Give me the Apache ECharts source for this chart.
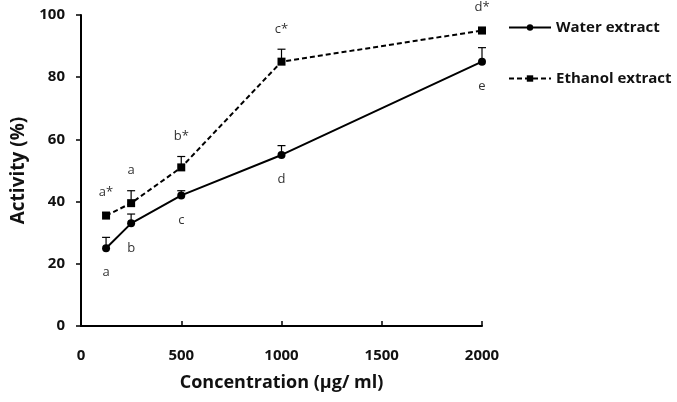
<!DOCTYPE html>
<html>
<head>
<meta charset="utf-8">
<script src="https://cdn.jsdelivr.net/npm/echarts@6/dist/echarts.min.js"></script>
<style>
  html, body { margin: 0; padding: 0; background: #fff; }
  #chart { width: 677px; height: 402px; }
</style>
</head>
<body>
<div id="chart"></div>
<script>
// concentration (ug/ml)
const concentrations = [125, 250, 500, 1000, 2000]
const waterValues = [25, 33, 42, 55, 85]
const waterErrors = [3.5, 3, 1.5, 3, 4.5]
const waterLabels = ['a', 'b', 'c', 'd', 'e']
const ethanolValues = [35.5, 39.5, 51, 85, 95]
const ethanolErrors = [1, 4, 3.5, 4, 1]
const ethanolLabels = ['a*', 'a', 'b*', 'c*', 'd*']
const xTicks = [0, 500, 1000, 1500, 2000]
const yTicks = [0, 20, 40, 60, 80, 100]

const font = '"Open Sans", "Noto Sans", sans-serif'

function pairs(values) {
  return concentrations.map((x, i) => [x, values[i]])
}

function errorData(values, errors) {
  return concentrations.map((x, i) => [x, values[i], values[i] + errors[i]])
}

// upper-only error bar with small cap, optional letter above it
function makeErrorRender(letters) {
  return function (params, api) {
    const p0 = api.coord([api.value(0), api.value(1)])
    const p1 = api.coord([api.value(0), api.value(2)])
    const w = 4
    const children = [
      { type: 'line', shape: { x1: p0[0], y1: p0[1], x2: p1[0], y2: p1[1] }, style: { stroke: '#000', lineWidth: 1.2 } },
      { type: 'line', shape: { x1: p1[0] - w, y1: p1[1], x2: p1[0] + w, y2: p1[1] }, style: { stroke: '#000', lineWidth: 1.2 } }
    ]
    if (letters) {
      children.push({
        type: 'text',
        x: p1[0],
        y: p1[1] - 20,
        style: {
          text: letters[params.dataIndex],
          align: 'center',
          verticalAlign: 'middle',
          fontFamily: font,
          fontSize: 13,
          fill: '#333'
        }
      })
    }
    return { type: 'group', children: children }
  }
}

const chart = echarts.init(document.getElementById('chart'))
chart.setOption({
  animation: false,
  textStyle: { fontFamily: font },
  grid: { left: 81, right: 195, top: 15, bottom: 76 },
  legend: {
    orient: 'vertical',
    left: 503,
    top: 15,
    itemGap: 36,
    itemWidth: 42,
    itemHeight: 8,
    textStyle: { fontFamily: font, fontWeight: 'bold', fontSize: 15, color: '#111' },
    data: ['Water extract', 'Ethanol extract']
  },
  xAxis: {
    type: 'value',
    min: xTicks[0],
    max: xTicks[xTicks.length - 1],
    interval: 500,
    name: 'Concentration (μg/ ml)',
    nameLocation: 'middle',
    nameGap: 48,
    nameTextStyle: { fontFamily: font, fontWeight: 'bold', fontSize: 18, color: '#111' },
    axisLine: { lineStyle: { color: '#000', width: 2 } },
    axisTick: { inside: true, length: 5, lineStyle: { color: '#000', width: 1.5 } },
    axisLabel: { margin: 22, fontWeight: 'bold', fontSize: 15, color: '#111', formatter: (v) => String(v) },
    splitLine: { show: false }
  },
  yAxis: {
    type: 'value',
    min: yTicks[0],
    max: yTicks[yTicks.length - 1],
    interval: 20,
    name: 'Activity (%)',
    nameLocation: 'middle',
    nameGap: 50,
    nameTextStyle: { fontFamily: font, fontWeight: 'bold', fontSize: 19, color: '#111' },
    axisLine: { show: true, lineStyle: { color: '#000', width: 2 } },
    axisTick: { show: true, length: 5, lineStyle: { color: '#000', width: 1.5 } },
    axisLabel: { margin: 16, fontWeight: 'bold', fontSize: 15, color: '#111' },
    splitLine: { show: false }
  },
  series: [
    {
      type: 'custom',
      renderItem: makeErrorRender(null),
      data: errorData(waterValues, waterErrors),
      encode: { x: 0, y: [1, 2] },
      z: 1,
      silent: true
    },
    {
      type: 'custom',
      renderItem: makeErrorRender(ethanolLabels),
      data: errorData(ethanolValues, ethanolErrors),
      encode: { x: 0, y: [1, 2] },
      z: 1,
      silent: true
    },
    {
      name: 'Water extract',
      type: 'line',
      data: pairs(waterValues),
      symbol: 'circle',
      symbolSize: 8,
      itemStyle: { color: '#000' },
      lineStyle: { color: '#000', width: 2 },
      label: {
        show: true,
        position: 'bottom',
        distance: 14,
        fontSize: 13,
        color: '#333',
        formatter: (p) => waterLabels[p.dataIndex]
      },
      z: 3
    },
    {
      name: 'Ethanol extract',
      type: 'line',
      data: pairs(ethanolValues),
      symbol: 'rect',
      symbolSize: 8,
      itemStyle: { color: '#000' },
      lineStyle: { color: '#000', width: 2, type: [5, 3] },
      z: 3
    }
  ]
})
</script>
</body>
</html>
